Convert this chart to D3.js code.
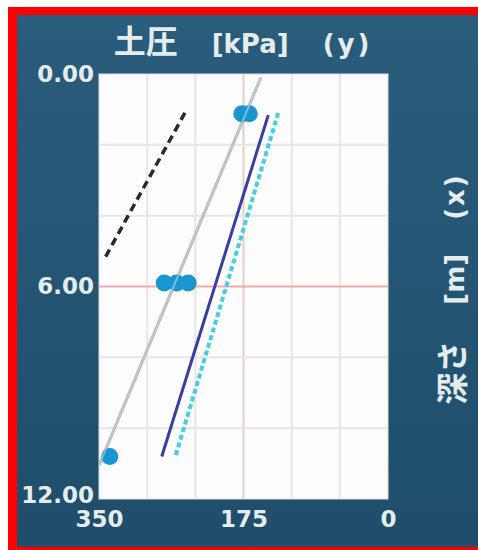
<!DOCTYPE html>
<html>
<head>
<meta charset="utf-8">
<script src="https://cdn.jsdelivr.net/npm/d3@7"></script>
<style>
  body { margin: 0; background: #fff; }
  text { font-family: "DejaVu Sans", Verdana, sans-serif; font-weight: bold; fill: #e4eded; }
  .cjk { font-family: "Noto Sans CJK JP", sans-serif; }
</style>
</head>
<body>
<div id="chartDiv"></div>
<script>
let w = 478
let h = 550

// axis ticks
let pressureTicks = [350, 175, 0]
let depthTicks = [0, 6, 12]

// series, [pressure kPa, depth m]
let blackDashed = [[246, 1.1], [343, 5.2]]
let grayLine = [[154, 0.1], [350, 11.05]]
let navyLine = [[145, 1.16], [274, 10.8]]
let cyanDashed = [[133, 1.1], [257, 10.76]]
let markers = [[177, 1.12], [168, 1.12], [271, 5.9], [256, 5.9], [242, 5.9], [337, 10.8]]

let svg = d3.select("#chartDiv")
  .append("svg")
  .attr("width", w)
  .attr("height", h)

let defs = svg.append("defs")
let grad = defs.append("linearGradient")
  .attr("id", "bg").attr("x1", 0).attr("y1", 0).attr("x2", 0).attr("y2", 1)
grad.append("stop").attr("offset", "0%").attr("stop-color", "#2a5c7c")
grad.append("stop").attr("offset", "100%").attr("stop-color", "#1f4d6a")

// frame
svg.append("rect").attr("x", 8).attr("y", 7).attr("width", w - 8).attr("height", h - 7).attr("fill", "#f00")
svg.append("rect").attr("x", 17).attr("y", 15).attr("width", w - 17).attr("height", 532).attr("fill", "url(#bg)")

let x = d3.scaleLinear().domain([350, 0]).range([99, 388])
let y = d3.scaleLinear().domain([0, 12]).range([74, 499])

defs.append("clipPath").attr("id", "plotClip")
  .append("rect")
  .attr("x", x(350)).attr("y", y(0))
  .attr("width", x(0) - x(350)).attr("height", y(12) - y(0))

svg.append("rect")
  .attr("x", x(350)).attr("y", y(0))
  .attr("width", x(0) - x(350)).attr("height", y(12) - y(0))
  .attr("fill", "#fdfdfd")
  .attr("stroke", "#d8dde0")

let plot = svg.append("g").attr("clip-path", "url(#plotClip)")

// grid, 6 divisions each way
let gridX = d3.range(1, 6).map(i => 350 - i * 350 / 6)
let gridY = d3.range(1, 6).map(i => i * 2)

plot.selectAll(".gx")
  .data(gridX)
  .enter()
  .append("line")
  .attr("x1", d => x(d)).attr("x2", d => x(d))
  .attr("y1", y(0)).attr("y2", y(12))
  .attr("stroke", d => d == 175 ? "#e6cdc6" : "#e6e6e6")
  .attr("stroke-width", 2)

plot.selectAll(".gy")
  .data(gridY)
  .enter()
  .append("line")
  .attr("x1", x(350)).attr("x2", x(0))
  .attr("y1", d => y(d)).attr("y2", d => y(d))
  .attr("stroke", d => d == 6 ? "#f2aaaa" : "#e6e6e6")
  .attr("stroke-width", 2)

let line = d3.line().x(d => x(d[0])).y(d => y(d[1]))

plot.append("path").datum(grayLine).attr("d", line)
  .attr("fill", "none").attr("stroke", "#b3b3b3").attr("stroke-width", 3)

plot.append("path").datum(blackDashed).attr("d", line)
  .attr("fill", "none").attr("stroke", "#2a2a2a").attr("stroke-width", 3.5)
  .attr("stroke-dasharray", "8,5")

plot.append("path").datum(navyLine).attr("d", line)
  .attr("fill", "none").attr("stroke", "#3a3d9e").attr("stroke-width", 3)

plot.append("path").datum(cyanDashed).attr("d", line)
  .attr("fill", "none").attr("stroke", "#45cde0").attr("stroke-width", 4)
  .attr("stroke-dasharray", "5,3")

plot.selectAll("circle")
  .data(markers)
  .enter()
  .append("circle")
  .attr("cx", d => x(d[0]))
  .attr("cy", d => y(d[1]))
  .attr("r", 8.5)
  .attr("fill", "#1796d0")

// gray line over the markers
plot.append("path").datum(grayLine).attr("d", line)
  .attr("fill", "none").attr("stroke", "#c4d4dc").attr("stroke-width", 2).attr("opacity", 0.6)

// axes
let yAxis = d3.axisLeft(y).tickValues(depthTicks).tickFormat(d3.format(".2f")).tickSize(0).tickPadding(5)
let xAxis = d3.axisBottom(x).tickValues(pressureTicks).tickFormat(d3.format("d")).tickSize(0).tickPadding(12)

svg.append("g")
  .attr("transform", "translate(" + x(350) + ",0)")
  .call(yAxis)
  .call(g => g.select(".domain").remove())
  .selectAll("text")
  .attr("font-family", null).attr("fill", null)
  .attr("dy", d => d == 12 ? "0.15em" : "0.32em")
  .style("font-size", "23px")

svg.append("g")
  .attr("transform", "translate(0," + y(12) + ")")
  .call(xAxis)
  .call(g => g.select(".domain").remove())
  .selectAll("text")
  .attr("font-family", null).attr("fill", null)
  .style("font-size", "23px")

// titles
let title = svg.append("text")
  .attr("x", 243).attr("y", 53)
  .attr("text-anchor", "middle")
  .style("font-size", "26px")
title.append("tspan").attr("class", "cjk").style("font-size", "32px").text("土圧")
title.append("tspan").attr("dx", 34).text("[kPa]")
title.append("tspan").attr("dx", 34).attr("letter-spacing", 3).text("(y)")

let side = svg.append("text")
  .attr("transform", "translate(455,289) rotate(-90)")
  .attr("text-anchor", "middle")
  .attr("dy", "0.36em")
  .style("font-size", "26px")
side.append("tspan").attr("class", "cjk").style("font-size", "32px").text("深さ")
side.append("tspan").attr("dx", 36).text("[m]")
side.append("tspan").attr("dx", 34).attr("letter-spacing", 2).text("(x)")
</script>
</body>
</html>
